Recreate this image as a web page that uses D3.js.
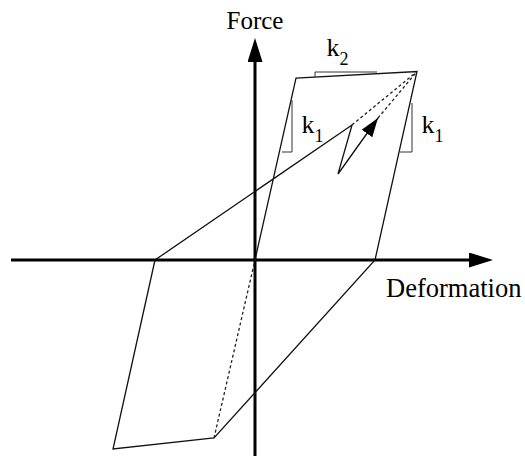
<!DOCTYPE html>
<html>
<head>
<meta charset="utf-8">
<script src="https://cdn.jsdelivr.net/npm/d3@7"></script>
<style>
    body { margin: 0; background: #fff; }
    text { font-family: "Liberation Serif", "DejaVu Serif", serif; fill: #000; }
</style>
</head>
<body>
<div id="chart"></div>
<script>
// hysteresis loop, points in (deformation, force) units
const loopPath = [
    [0, 0], [0.82, 3.64], [3.24, 3.77], [2.40, 0], [-0.82, -3.56],
    [-2.84, -3.78], [-2.00, 0], [1.94, 2.70], [1.66, 1.72], [2.46, 2.84]
];
const dashedPaths = [
    [[1.94, 2.70], [3.24, 3.77]],
    [[2.46, 2.84], [3.24, 3.77]],
    [[-0.82, -3.56], [0, 0]]
];
// slope triangles (k1 left, k1 right, k2)
const slopeMarks = [
    [[0.54, 2.16], [0.74, 2.16], [0.74, 3.2]],
    [[2.90, 2.16], [3.14, 2.16], [3.14, 3.14]],
    [[1.20, 3.66], [1.20, 3.76], [2.44, 3.76]]
];
const slopeLabels = [
    {main: "k", sub: "1", x: 0.93, y: 2.54},
    {main: "k", sub: "1", x: 3.33, y: 2.54},
    {main: "k", sub: "2", x: 1.43, y: 4.08}
];
const xAxisExtent = [-4.88, 4.76];
const yAxisExtent = [-4.1, 4.44];
const axisTitles = {x: "Deformation", y: "Force"};

let width = 525, height = 456;
let svg = d3.select("#chart").append("svg")
    .attr("width", width)
    .attr("height", height);

// 1 unit = 50px, origin at (255, 260)
let xSc = d3.scaleLinear().domain([-5, 5]).range([5, 505]);
let ySc = d3.scaleLinear().domain([-4, 4]).range([460, 60]);

let line = d3.line().x(d => xSc(d[0])).y(d => ySc(d[1]));

let defs = svg.append("defs");
defs.append("marker")
    .attr("id", "axisHead")
    .attr("viewBox", "0 0 24 15")
    .attr("refX", 0).attr("refY", 7.5)
    .attr("markerWidth", 24).attr("markerHeight", 15)
    .attr("markerUnits", "userSpaceOnUse")
    .attr("orient", "auto")
    .append("path").attr("d", "M0,0L24,7.5L0,15Z").attr("fill", "#000");
defs.append("marker")
    .attr("id", "smallHead")
    .attr("viewBox", "0 0 19 13")
    .attr("refX", 19).attr("refY", 6.5)
    .attr("markerWidth", 19).attr("markerHeight", 13)
    .attr("markerUnits", "userSpaceOnUse")
    .attr("orient", "auto")
    .append("path").attr("d", "M0,0L19,6.5L0,13Z").attr("fill", "#000");

// axes (line stops short of tip, marker covers the rest)
let headLen = 24 / 50;
svg.append("path")
    .attr("d", line([[xAxisExtent[0], 0], [xAxisExtent[1] - headLen, 0]]))
    .attr("stroke", "#000").attr("stroke-width", 3).attr("fill", "none")
    .attr("marker-end", "url(#axisHead)");
svg.append("path")
    .attr("d", line([[0, yAxisExtent[0]], [0, yAxisExtent[1] - headLen]]))
    .attr("stroke", "#000").attr("stroke-width", 3).attr("fill", "none")
    .attr("marker-end", "url(#axisHead)");

// main loop
svg.append("path")
    .attr("d", line(loopPath))
    .attr("stroke", "#111").attr("stroke-width", 1.3).attr("fill", "none")
    .attr("stroke-linejoin", "miter")
    .attr("marker-end", "url(#smallHead)");

svg.selectAll(".dash").data(dashedPaths).enter().append("path")
    .attr("class", "dash")
    .attr("d", line)
    .attr("stroke", "#222").attr("stroke-width", 1.3).attr("fill", "none")
    .attr("stroke-dasharray", "3,2.5");

svg.selectAll(".slope").data(slopeMarks).enter().append("path")
    .attr("class", "slope")
    .attr("d", line)
    .attr("stroke", "#333").attr("stroke-width", 1).attr("fill", "none");

let lbl = svg.selectAll(".kLabel").data(slopeLabels).enter().append("text")
    .attr("class", "kLabel")
    .attr("x", d => xSc(d.x))
    .attr("y", d => ySc(d.y))
    .style("font-size", "26px");
lbl.append("tspan").text(d => d.main);
lbl.append("tspan").attr("dy", 9).style("font-size", "18px").text(d => d.sub);

// axis titles
svg.append("text")
    .attr("x", xSc(0)).attr("y", 29)
    .attr("text-anchor", "middle")
    .style("font-size", "25px")
    .text(axisTitles.y);
svg.append("text")
    .attr("x", 386).attr("y", ySc(0) + 37)
    .style("font-size", "26.5px")
    .text(axisTitles.x);
</script>
</body>
</html>
